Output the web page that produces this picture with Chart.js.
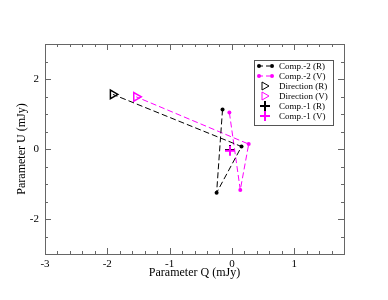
<!DOCTYPE html>
<html>
<head>
<meta charset="utf-8">
<script src="https://cdn.jsdelivr.net/npm/chart.js@4/dist/chart.umd.min.js"></script>
<style>
  html, body { margin: 0; padding: 0; background: #fff; }
  #wrap { width: 388px; height: 300px; position: relative; }
</style>
</head>
<body>
<div id="wrap"><canvas id="chart"></canvas></div>
<script>
// Q/U values (mJy)
const comp2R_Q = [-0.15, -0.245, 0.155, -1.91];
const comp2R_U = [1.13, -1.25, 0.07, 1.56];
const comp2V_Q = [-0.04, 0.135, 0.27, -1.535];
const comp2V_U = [1.04, -1.17, 0.14, 1.49];
const dirR = [-1.91, 1.56];
const dirV = [-1.535, 1.49];
const comp1R = [-0.03, -0.03];
const comp1V = [-0.03, -0.05];

const xTicks = [-3, -2, -1, 0, 1];
const yTicks = [-2, 0, 2];
const xMinor = [-2.8, -2.6, -2.4, -2.2, -1.8, -1.6, -1.4, -1.2, -0.8, -0.6, -0.4, -0.2,
  0.2, 0.4, 0.6, 0.8, 1.2, 1.4, 1.6];
const yMinor = [-2.5, -1.5, -1, -0.5, 0.5, 1, 1.5, 2.5];

const font = "Liberation Serif";
const magenta = "#ff00ff";

function pts(qs, us) {
  return qs.map((q, i) => ({ x: q, y: us[i] }));
}

// inward ticks on all four sides + frame
const frameTicks = {
  id: "frameTicks",
  afterDraw(chart) {
    const { ctx, chartArea: a, scales } = chart;
    const xs = scales.x, ys = scales.y;
    ctx.save();
    ctx.strokeStyle = "#666";
    ctx.lineWidth = 1;
    ctx.strokeRect(a.left + 0.5, a.top + 0.5, a.right - a.left, a.bottom - a.top);
    function xt(v, len) {
      const px = Math.round(xs.getPixelForValue(v)) + 0.5;
      ctx.beginPath();
      ctx.moveTo(px, a.bottom); ctx.lineTo(px, a.bottom - len);
      ctx.moveTo(px, a.top); ctx.lineTo(px, a.top + len);
      ctx.stroke();
    }
    function yt(v, len) {
      const py = Math.round(ys.getPixelForValue(v)) + 0.5;
      ctx.beginPath();
      ctx.moveTo(a.left, py); ctx.lineTo(a.left + len, py);
      ctx.moveTo(a.right, py); ctx.lineTo(a.right - len, py);
      ctx.stroke();
    }
    xTicks.forEach(v => xt(v, 6));
    xMinor.forEach(v => xt(v, 3));
    yTicks.forEach(v => yt(v, 6));
    yMinor.forEach(v => yt(v, 3));
    ctx.restore();
  }
};

// legend box drawn inside the plot
const boxLegend = {
  id: "boxLegend",
  afterDraw(chart) {
    const ctx = chart.ctx;
    const left = 254, top = 60, w = 79, h = 65;
    ctx.save();
    ctx.fillStyle = "#fff";
    ctx.fillRect(left, top, w, h);
    ctx.strokeStyle = "#555";
    ctx.lineWidth = 1;
    ctx.strokeRect(left + 0.5, top + 0.5, w, h);
    const rows = [
      { text: "Comp.-2 (R)", kind: "line", color: "#000" },
      { text: "Comp.-2 (V)", kind: "line", color: magenta },
      { text: "Direction (R)", kind: "tri", color: "#000" },
      { text: "Direction (V)", kind: "tri", color: magenta },
      { text: "Comp.-1 (R)", kind: "plus", color: "#000" },
      { text: "Comp.-1 (V)", kind: "plus", color: magenta }
    ];
    ctx.font = "9px '" + font + "'";
    ctx.textBaseline = "middle";
    rows.forEach((r, i) => {
      const y = top + 6 + i * 10;
      ctx.strokeStyle = r.color;
      ctx.fillStyle = r.color;
      if (r.kind === "line") {
        ctx.setLineDash([4, 3]);
        ctx.beginPath();
        ctx.moveTo(259, y); ctx.lineTo(272, y);
        ctx.stroke();
        ctx.setLineDash([]);
        [259, 272].forEach(x => {
          ctx.beginPath(); ctx.arc(x, y, 2, 0, Math.PI * 2); ctx.fill();
        });
      } else if (r.kind === "tri") {
        ctx.lineWidth = 1;
        ctx.beginPath();
        ctx.moveTo(262, y - 4); ctx.lineTo(269, y); ctx.lineTo(262, y + 4);
        ctx.closePath(); ctx.stroke();
      } else {
        ctx.lineWidth = 2;
        ctx.beginPath();
        ctx.moveTo(260, y); ctx.lineTo(270, y);
        ctx.moveTo(265, y - 5); ctx.lineTo(265, y + 5);
        ctx.stroke();
        ctx.lineWidth = 1;
      }
      ctx.fillStyle = "#000";
      ctx.fillText(r.text, 279, y + 0.5);
    });
    ctx.restore();
  }
};

new Chart(document.getElementById("chart"), {
  type: "scatter",
  data: {
    datasets: [
      {
        label: "Comp.-2 (R)",
        data: pts(comp2R_Q, comp2R_U),
        showLine: true,
        borderColor: "#000",
        backgroundColor: "#000",
        borderWidth: 1,
        borderDash: [6, 3],
        pointRadius: [2, 2, 2, 0],
        pointBorderWidth: 0
      },
      {
        label: "Comp.-2 (V)",
        data: pts(comp2V_Q, comp2V_U),
        showLine: true,
        borderColor: magenta,
        backgroundColor: magenta,
        borderWidth: 1,
        borderDash: [6, 3],
        pointRadius: [2, 2, 2, 0],
        pointBorderWidth: 0
      },
      {
        label: "Direction (R)",
        data: [{ x: dirR[0], y: dirR[1] }],
        pointStyle: "triangle",
        rotation: 90,
        pointRadius: 5,
        borderColor: "#000",
        backgroundColor: "rgba(0,0,0,0)",
        borderWidth: 1.5
      },
      {
        label: "Direction (V)",
        data: [{ x: dirV[0], y: dirV[1] }],
        pointStyle: "triangle",
        rotation: 90,
        pointRadius: 5,
        borderColor: magenta,
        backgroundColor: "rgba(0,0,0,0)",
        borderWidth: 1.5
      },
      {
        label: "Comp.-1 (R)",
        data: [{ x: comp1R[0], y: comp1R[1] }],
        pointStyle: "cross",
        pointRadius: 5,
        borderColor: "#000",
        borderWidth: 2
      },
      {
        label: "Comp.-1 (V)",
        data: [{ x: comp1V[0], y: comp1V[1] }],
        pointStyle: "cross",
        pointRadius: 5,
        borderColor: magenta,
        borderWidth: 2,
        order: -1
      }
    ]
  },
  options: {
    responsive: true,
    maintainAspectRatio: false,
    animation: false,
    layout: { padding: { top: 44, right: 44, left: 15, bottom: 20 } },
    plugins: {
      legend: { display: false },
      tooltip: { enabled: false }
    },
    scales: {
      x: {
        type: "linear",
        min: -3,
        max: 1.8,
        afterBuildTicks: s => { s.ticks = xTicks.map(v => ({ value: v })); },
        afterFit: s => { s.height = 26; },
        grid: { display: false, drawTicks: false },
        border: { display: false },
        ticks: {
          padding: 4,
          color: "#000",
          font: { family: font, size: 11 }
        },
        title: {
          display: true,
          text: "Parameter Q (mJy)",
          color: "#000",
          padding: { top: 0, bottom: 0 },
          font: { family: font, size: 12 }
        }
      },
      y: {
        type: "linear",
        min: -3,
        max: 3,
        afterBuildTicks: s => { s.ticks = yTicks.map(v => ({ value: v })); },
        afterFit: s => { s.width = 30; },
        grid: { display: false, drawTicks: false },
        border: { display: false },
        ticks: {
          padding: 6,
          color: "#000",
          font: { family: font, size: 11 }
        },
        title: {
          display: true,
          text: "Parameter U (mJy)",
          color: "#000",
          padding: { top: 0, bottom: 0 },
          font: { family: font, size: 12 }
        }
      }
    }
  },
  plugins: [frameTicks, boxLegend]
});
</script>
</body>
</html>
